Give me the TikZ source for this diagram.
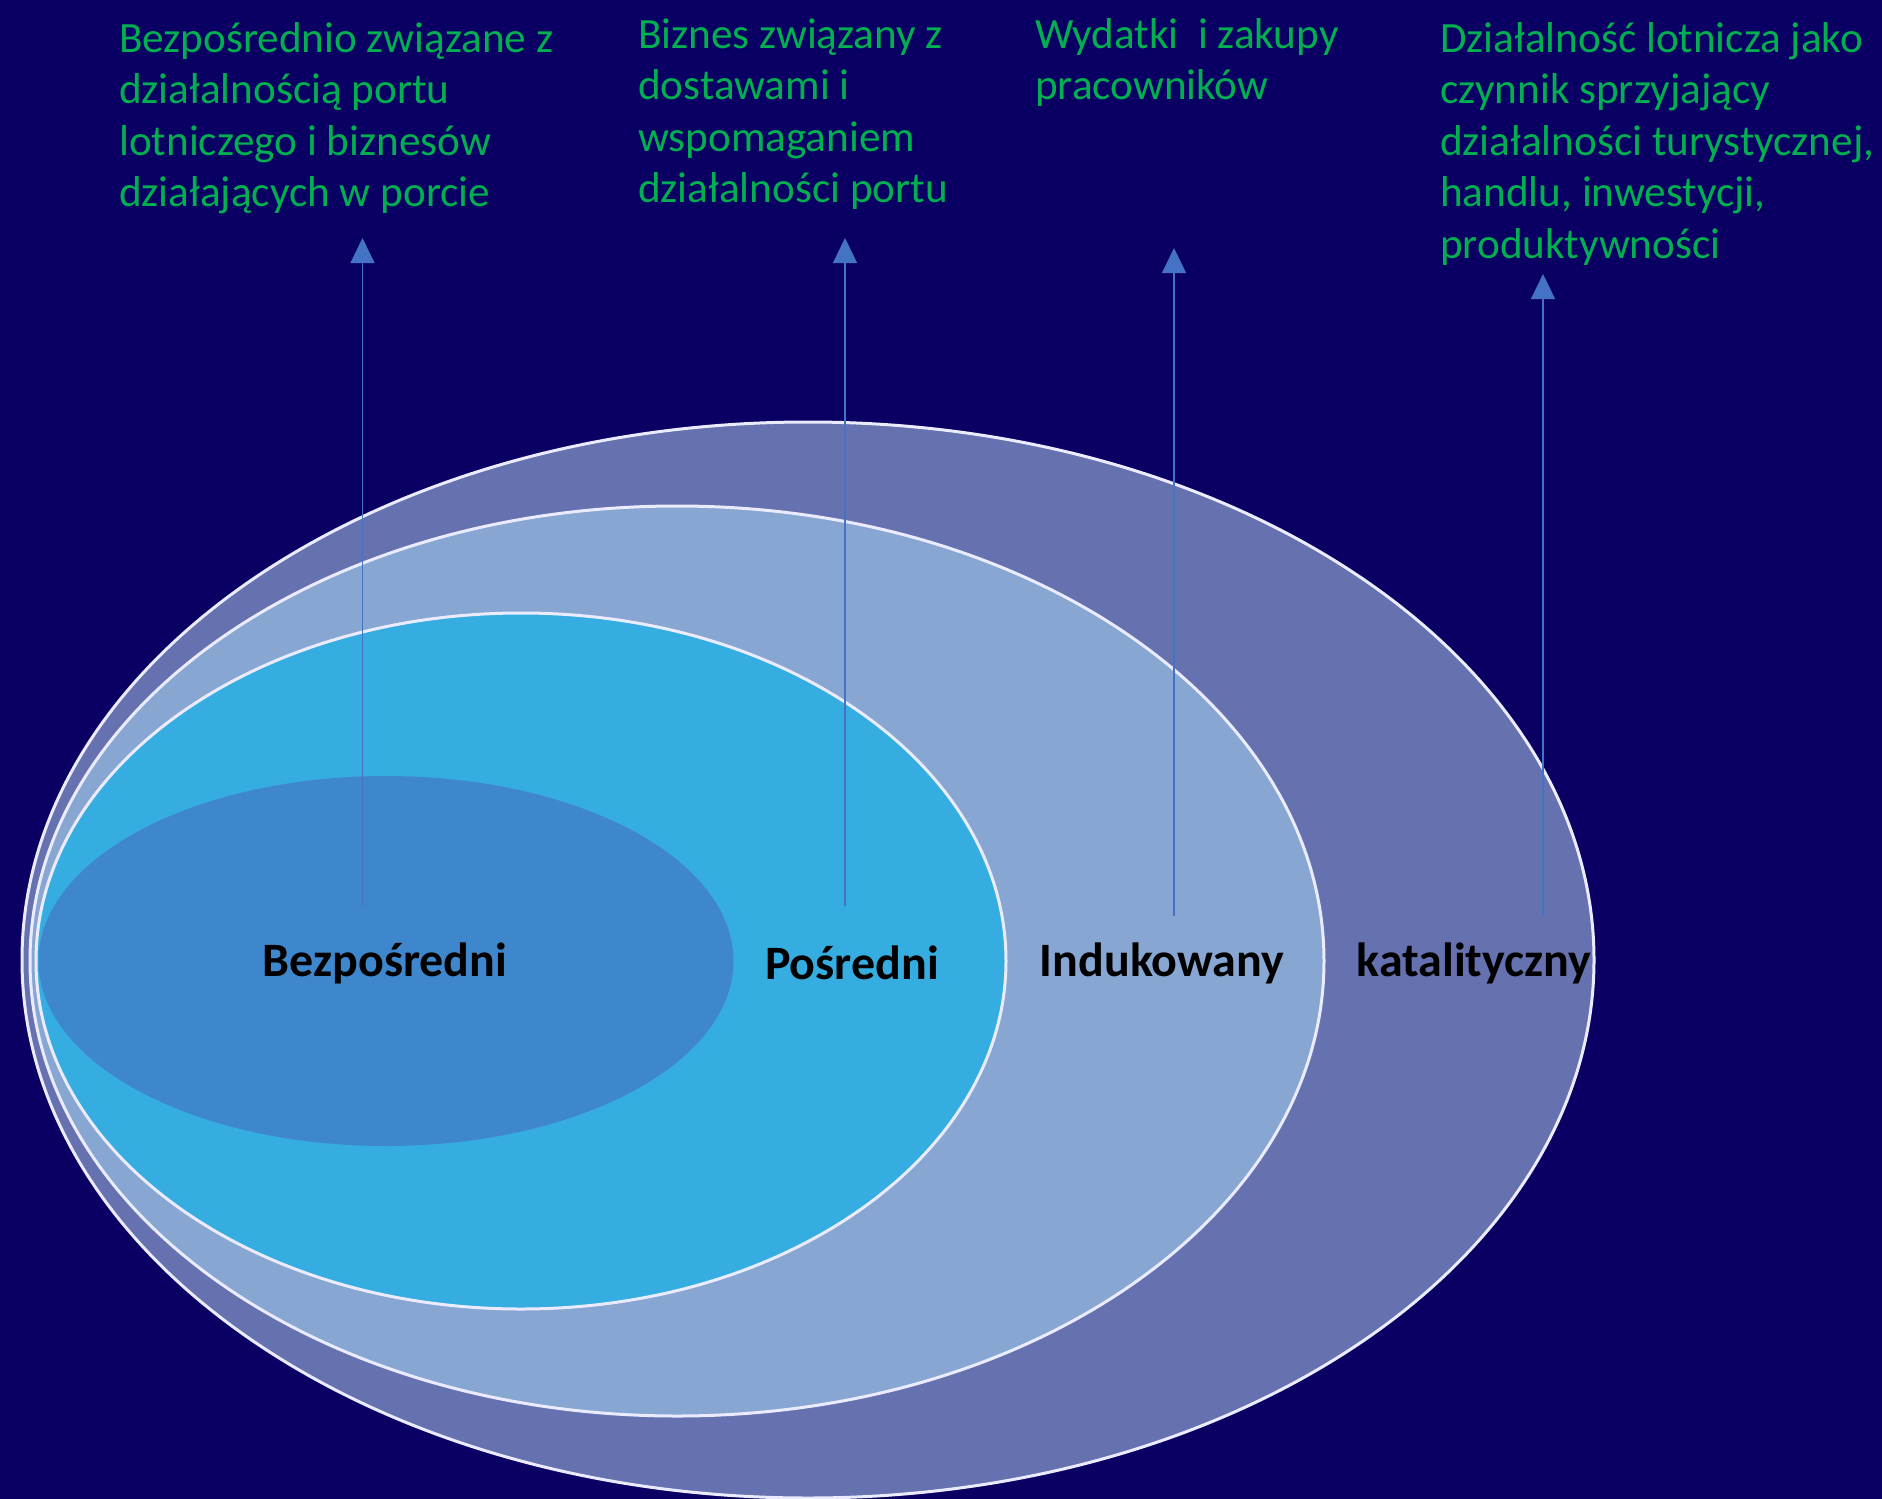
\documentclass[tikz,border=0pt]{standalone}
\usepackage{fontspec}
\setmainfont{Carlito}
\usetikzlibrary{arrows.meta}
\definecolor{bg}{RGB}{10,0,100}
\definecolor{ringA}{RGB}{101,114,175}
\definecolor{ringB}{RGB}{136,166,210}
\definecolor{ringC}{RGB}{53,173,225}
\definecolor{ringD}{RGB}{63,135,205}
\definecolor{txtgreen}{RGB}{0,176,80}
\definecolor{arrowblue}{RGB}{68,114,196}
\tikzset{
  ring/.style={draw=white!92!blue, line width=3pt},
  lbl/.style={font=\fontsize{48}{56}\selectfont\bfseries, text=black, inner sep=0pt},
  desc/.style={font=\fontsize{43.2}{51.5}\selectfont, text=txtgreen, align=left, anchor=base west, inner sep=0pt},
  uparrow/.style={draw=arrowblue, line width=1.2pt, -{Triangle[width=24pt,length=25pt]}, fill=arrowblue}
}
\begin{document}
\begin{tikzpicture}[x=1pt,y=-1pt]
\fill[bg] (0,0) rectangle (1882,1499);
\useasboundingbox (0,0) rectangle (1882,1499);
% ellipses
\path[ring, fill=ringA] (808,960) ellipse [x radius=786pt, y radius=538pt];
\path[ring, fill=ringB] (677,961) ellipse [x radius=647pt, y radius=455pt];
\path[ring, fill=ringC] (521,961) ellipse [x radius=485pt, y radius=348pt];
\path[fill=ringD] (386,961) ellipse [x radius=347.5pt, y radius=185pt];
% arrow coordinates
\coordinate (b1) at (362.5,906); \coordinate (t1) at (362.5,238);
\coordinate (b2) at (845,906);   \coordinate (t2) at (845,238);
\coordinate (b3) at (1174,916);  \coordinate (t3) at (1174,248);
\coordinate (b4) at (1543,916);  \coordinate (t4) at (1543,274);
\draw[uparrow] (b1) -- (t1);
\draw[uparrow] (b2) -- (t2);
\draw[uparrow] (b3) -- (t3);
\draw[uparrow] (b4) -- (t4);
% labels
\node[lbl] (l1) at (385,963) {Bezpośredni};
\node[lbl] (l2) at (852,963) {Pośredni};
\node[lbl] (l3) at (1162,963) {Indukowany};
\node[lbl] (l4) at (1474,963) {katalityczny};
% descriptions (anchored at baseline of last line)
\node[desc] (d1) at (119,206.5) {Bezpośrednio związane z\\działalnością portu\\lotniczego i biznesów\\działających w porcie};
\node[desc] (d2) at (638,202.5) {Biznes związany z\\dostawami i\\wspomaganiem\\działalności portu};
\node[desc] (d3) at (1035,99.5) {Wydatki\ \ i zakupy\\pracowników};
\node[desc] (d4) at (1440,258) {Działalność lotnicza jako\\czynnik sprzyjający\\działalności turystycznej,\\handlu, inwestycji,\\produktywności};
\end{tikzpicture}
\end{document}
